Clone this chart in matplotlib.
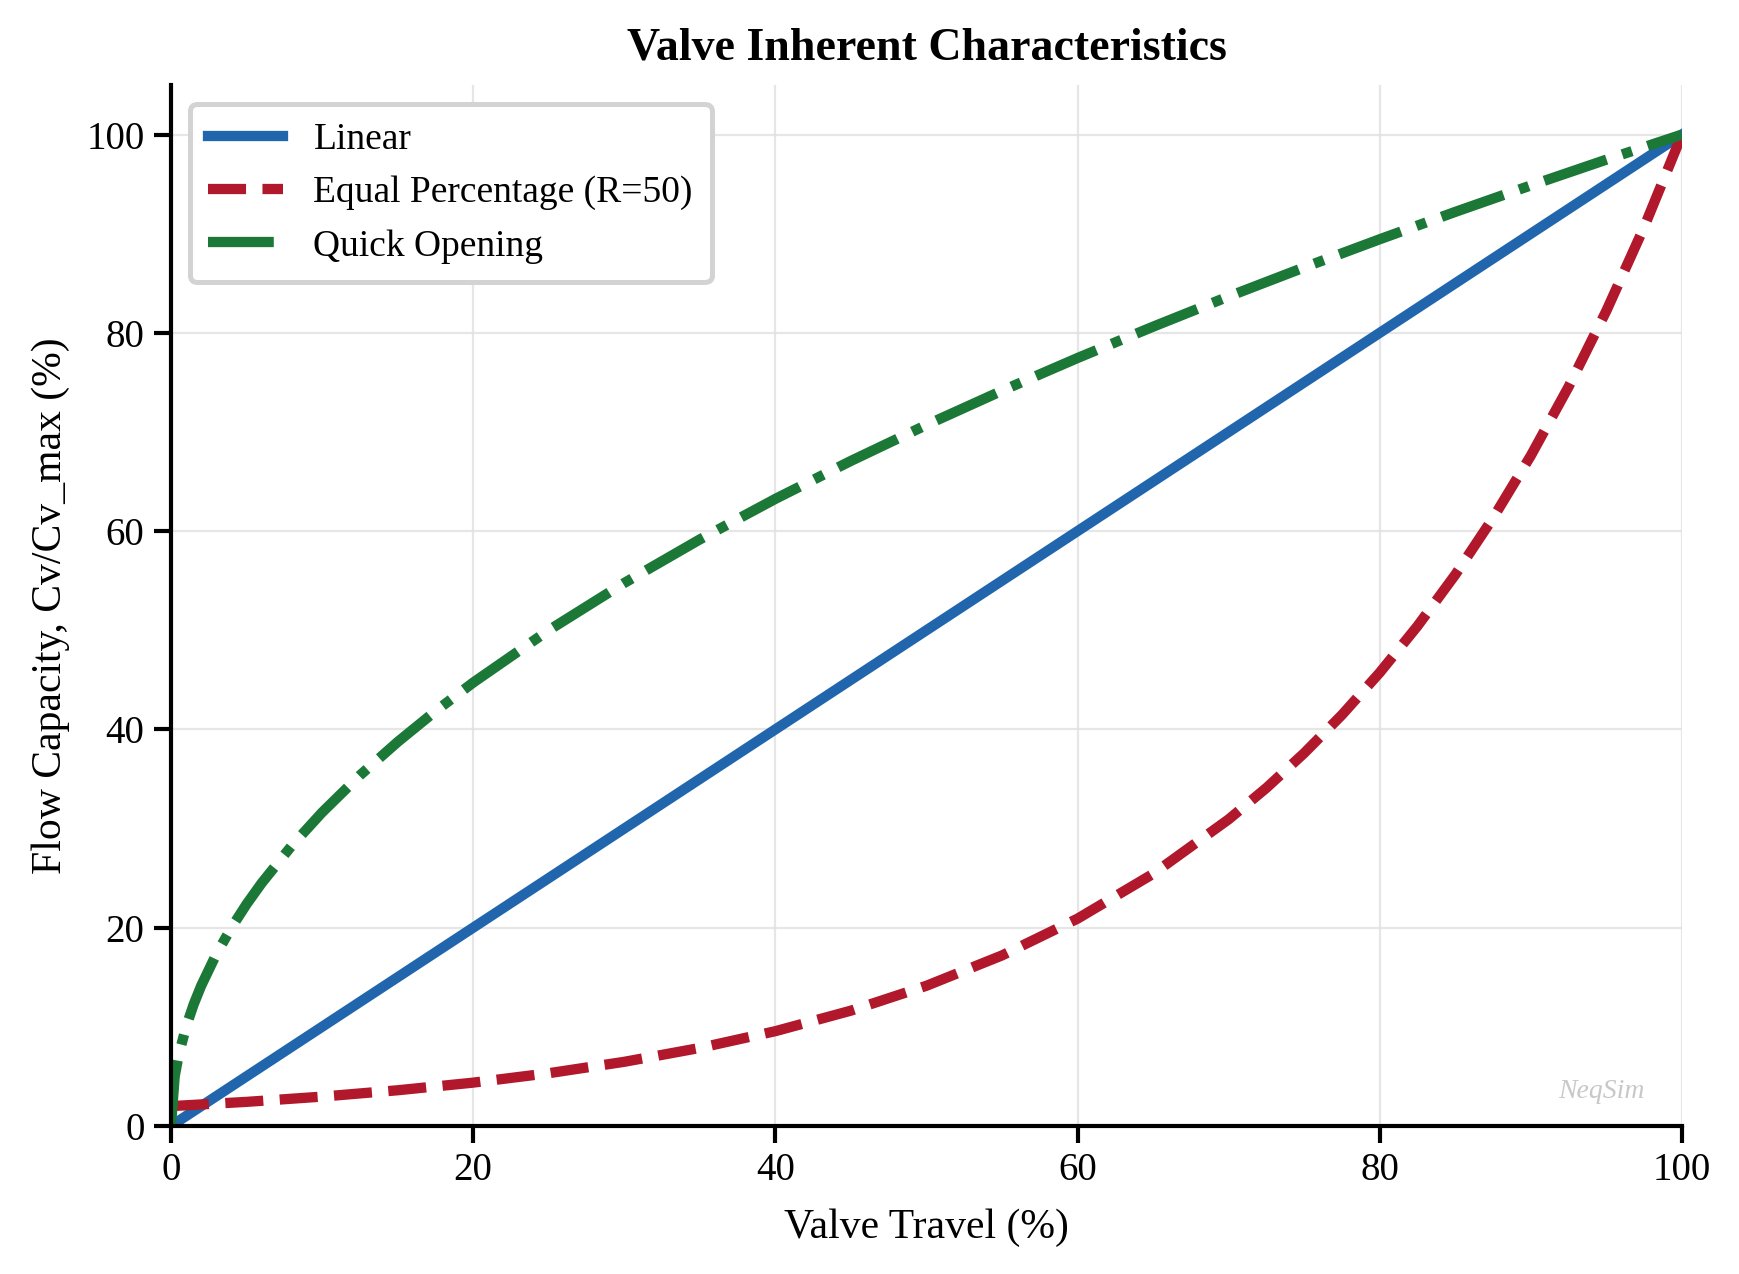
import matplotlib
matplotlib.use("Agg")
import matplotlib.pyplot as plt

# valve travel (%) and flow capacity Cv/Cv_max (%)
x_linear = [0, 100]
y_linear = [0, 100]

x_eqpct = [0, 5, 10, 15, 20, 25, 30, 35, 40, 45, 50, 55, 60, 65, 70,
           72.5, 75, 77.5, 80, 82.5, 85, 87.5, 90, 92.5, 95, 97.5, 100]
y_eqpct = [2.0, 2.43, 2.96, 3.60, 4.37, 5.32, 6.47, 7.87, 9.56, 11.63, 14.14,
           17.20, 20.91, 25.43, 30.93, 34.10, 37.61, 41.47, 45.73, 50.43,
           55.61, 61.33, 67.62, 74.57, 82.23, 90.68, 100.0]

x_quick = [0, 0.25, 0.5, 1, 1.5, 2, 3, 4, 5, 6, 8, 10, 12.5, 15, 17.5, 20,
           25, 30, 35, 40, 45, 50, 55, 60, 65, 70, 75, 80, 85, 90, 95, 100]
y_quick = [0, 5.0, 7.07, 10.0, 12.25, 14.14, 17.32, 20.0, 22.36, 24.49, 28.28,
           31.62, 35.36, 38.73, 41.83, 44.72, 50.0, 54.77, 59.16, 63.25, 67.08,
           70.71, 74.16, 77.46, 80.62, 83.67, 86.60, 89.44, 92.20, 94.87,
           97.47, 100.0]

plt.rcParams["font.family"] = ["Liberation Serif", "DejaVu Serif"]

fig, ax = plt.subplots(figsize=(8.695, 6.37), dpi=200)
fig.subplots_adjust(left=0.0983, right=0.9672, bottom=0.1162, top=0.9333)

ax.plot(x_linear, y_linear, color="#2166ac", lw=3.7, ls="-", label="Linear")
ax.plot(x_eqpct, y_eqpct, color="#b2182b", lw=3.7, ls="--",
        label="Equal Percentage (R=50)")
ax.plot(x_quick, y_quick, color="#1b7837", lw=3.7, ls="-.",
        label="Quick Opening")

ax.set_xlim(0, 100)
ax.set_ylim(0, 105)
ax.set_xticks([0, 20, 40, 60, 80, 100])
ax.set_yticks([0, 20, 40, 60, 80, 100])
ax.tick_params(labelsize=14, width=1.5, length=6)
ax.grid(True, color="#e0e0e0", lw=0.8, alpha=0.8)
ax.set_axisbelow(True)
for side in ("top", "right"):
    ax.spines[side].set_visible(False)
for side in ("left", "bottom"):
    ax.spines[side].set_linewidth(1.5)

ax.set_xlabel("Valve Travel (%)", fontsize=15, labelpad=7)
ax.set_ylabel("Flow Capacity, Cv/Cv_max (%)", fontsize=15, labelpad=6)
ax.set_title("Valve Inherent Characteristics", fontsize=16.5,
             fontweight="bold", pad=9)

leg = ax.legend(loc="upper left", fontsize=13.5, frameon=True, fancybox=True,
                framealpha=1.0, edgecolor="#d3d3d3", borderpad=0.5,
                handlelength=2.0)
leg.get_frame().set_linewidth(1.8)

ax.text(0.975, 0.021, "NeqSim", transform=ax.transAxes, ha="right",
        va="bottom", fontsize=10, style="italic", color="#c8c8c8")

fig.savefig("out.png", dpi=200)
